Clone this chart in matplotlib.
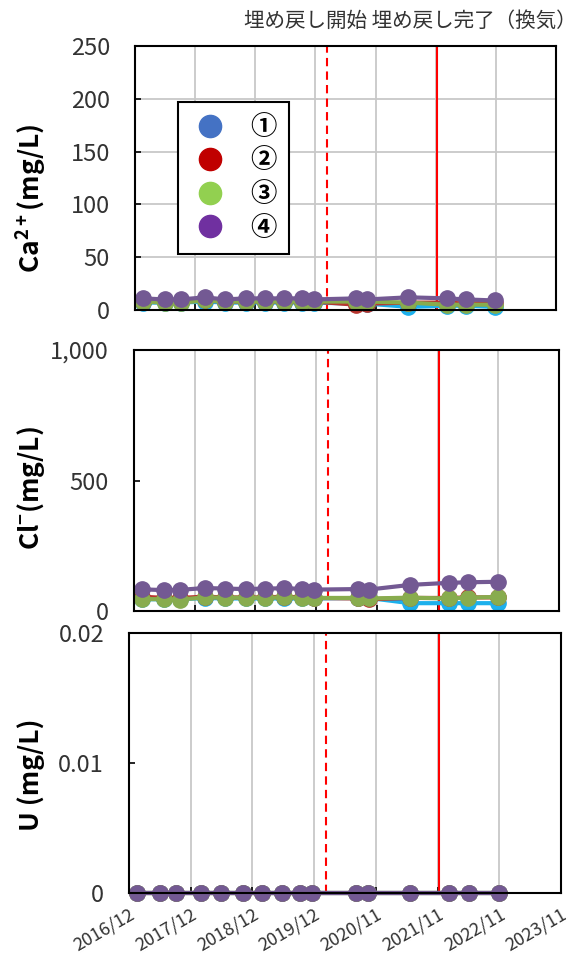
import matplotlib
matplotlib.use('Agg')
import matplotlib.pyplot as plt
import matplotlib.dates as mdates
from matplotlib.lines import Line2D
from matplotlib.ticker import FuncFormatter
import datetime as dt

plt.rcParams['font.family'] = ['Noto Sans CJK JP', 'DejaVu Sans']
plt.rcParams['mathtext.default'] = 'regular'

# sampling dates
dates = ['2017-01-18', '2017-06-01', '2017-09-06', '2018-01-29', '2018-05-30',
         '2018-10-04', '2019-01-27', '2019-05-22', '2019-09-08', '2019-11-20',
         '2020-08-06', '2020-10-12', '2021-06-17', '2022-02-08', '2022-06-03',
         '2022-11-26']

labels = ['①', '②', '③', '④']

ca1 = [7, 7, 7, 8, 7, 7, 7, 7, 7, 7, 6, 6, 3, 4, 4, 3]
ca2 = [8, 8, 8, 9, 8, 8, 8, 8, 8, 8, 5, 6, 7, 7, 6, 7]
ca3 = [8, 7, 7, 9, 8, 8, 8, 8, 8, 8, 8, 8, 7, 5, 5, 5]
ca4 = [11, 10, 10, 12, 10, 11, 11, 11, 11, 10, 11, 10, 12, 11, 10, 9]

cl1 = [45, 45, 45, 50, 48, 48, 48, 48, 48, 48, 50, 50, 30, 30, 30, 30]
cl2 = [55, 50, 50, 55, 52, 52, 52, 55, 52, 50, 48, 45, 50, 50, 52, 52]
cl3 = [46, 45, 44, 52, 51, 51, 51, 52, 51, 50, 50, 48, 51, 48, 51, 54]
cl4 = [83, 80, 81, 88, 86, 84, 86, 87, 85, 82, 84, 82, 100, 108, 110, 112]

u1 = [0, 0, 0, 0, 0, 0, 0, 0, 0, 0, 0, 0, 0, 0, 0, 0]
u2 = [0, 0, 0, 0, 0, 0, 0, 0, 0, 0, 0, 0, 0, 0, 0, 0]
u3 = [0, 0, 0, 0, 0, 0, 0, 0, 0, 0, 0, 0, 0, 0, 0, 0]
u4 = [0, 0, 0, 0, 0, 0, 0, 0, 0, 0, 0, 0, 0, 0, 0, 0]

backfill_start = '2020-02-10'
backfill_end = '2021-12-10'

line_colors = ['#1CB0EC', '#B8352F', '#88AC4E', '#735993']
legend_colors = ['#4472C4', '#C00000', '#92D050', '#7030A0']

x = [dt.datetime.strptime(d, '%Y-%m-%d') for d in dates]
xmin = dt.datetime(2016, 12, 1)
xmax = xmin + dt.timedelta(days=365 * 7)
xticks = [xmin + dt.timedelta(days=365 * i) for i in range(8)]

W, H = 579, 955
fig = plt.figure(figsize=(W / 100, H / 100), dpi=100)


def px_axes(l, r, t, b):
    return fig.add_axes([l / W, 1 - b / H, (r - l) / W, (b - t) / H])


def style(ax, ymax, yticks, fmt, hgrid, show_x):
    ax.set_xlim(xmin, xmax)
    ax.set_ylim(0, ymax)
    ax.set_xticks(xticks)
    ax.set_yticks(yticks)
    ax.yaxis.set_major_formatter(FuncFormatter(fmt))
    ax.xaxis.set_major_formatter(mdates.DateFormatter('%Y/%m'))
    ax.grid(axis='x', color='#C8C8C8', lw=1.3)
    if hgrid:
        ax.grid(axis='y', color='#C8C8C8', lw=1.3)
    ax.set_axisbelow(True)
    for s in ax.spines.values():
        s.set_linewidth(1.5)
        s.set_color('black')
        s.set_zorder(5)
    ax.tick_params(direction='in', length=4, width=1.2, labelsize=17,
                   labelcolor='#333333')
    ax.tick_params(axis='y', pad=18)
    if show_x:
        ax.tick_params(axis='x', labelsize=13, pad=9)
        for t in ax.get_xticklabels():
            t.set_rotation(30)
            t.set_ha('right')
            t.set_rotation_mode('anchor')
    else:
        ax.tick_params(axis='x', labelbottom=False)
    ax.axvline(dt.datetime.strptime(backfill_start, '%Y-%m-%d'), color='#FF0000',
               lw=1.5, ls=(0, (4, 2.5)), zorder=3)
    ax.axvline(dt.datetime.strptime(backfill_end, '%Y-%m-%d'), color='#FF0000',
               lw=1.5, zorder=3)


def draw(ax, series):
    for ys, c in zip(series, line_colors):
        ax.plot(x, ys, color=c, lw=3, marker='o', ms=11, mec=c, mfc=c,
                clip_on=False, zorder=4)


ax1 = px_axes(135, 556, 46, 310)
style(ax1, 250, [0, 50, 100, 150, 200, 250], lambda v, p: f'{v:.0f}', True, False)
draw(ax1, [ca1, ca2, ca3, ca4])

ax2 = px_axes(134, 559, 350, 611)
style(ax2, 1000, [0, 500, 1000], lambda v, p: f'{v:,.0f}', False, False)
draw(ax2, [cl1, cl2, cl3, cl4])

ax3 = px_axes(129, 561, 633, 893)
style(ax3, 0.02, [0, 0.01, 0.02], lambda v, p: '0' if v == 0 else f'{v:.2f}', False, True)
draw(ax3, [u1, u2, u3, u4])

handles = [Line2D([], [], ls='none', marker='o', ms=16, mfc=c, mec=c)
           for c in legend_colors]
leg = ax1.legend(handles, labels, loc='upper left', borderaxespad=0,
                 bbox_to_anchor=(178 / W, 1 - 102 / H), bbox_transform=fig.transFigure,
                 frameon=True, fancybox=False, edgecolor='black', framealpha=1,
                 prop={'size': 19, 'weight': 'bold'}, handletextpad=0.8,
                 labelspacing=0.25, borderpad=0.45, handlelength=1.5)
leg.get_frame().set_linewidth(1.5)

fig.text(31 / W, 1 - 198 / H, 'Ca$^{2+}$(mg/L)', rotation=90, ha='center',
         va='center', fontsize=19, fontweight='bold')
fig.text(31 / W, 1 - 488 / H, 'Cl$^{-}$(mg/L)', rotation=90, ha='center',
         va='center', fontsize=19, fontweight='bold')
fig.text(31 / W, 1 - 775 / H, 'U (mg/L)', rotation=90, ha='center',
         va='center', fontsize=19, fontweight='bold')

fig.text(577 / W, 1 - 21 / H, '埋め戻し開始 埋め戻し完了（換気）', ha='right',
         va='center', fontsize=14.8, color='#333333')

fig.savefig('out.png', dpi=100)
